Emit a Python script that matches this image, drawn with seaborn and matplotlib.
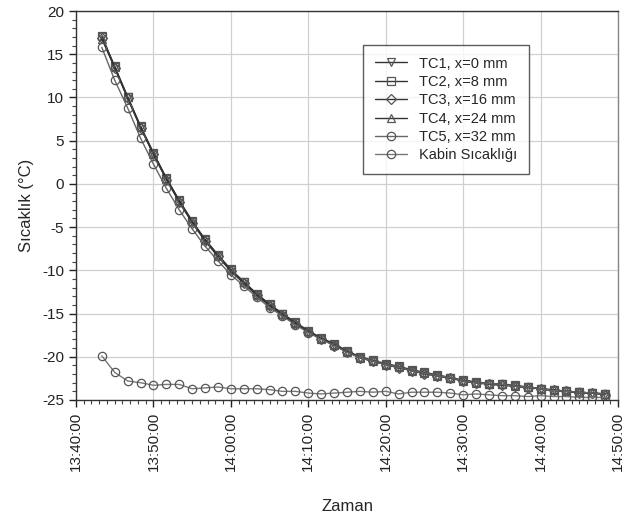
import pandas as pd
import matplotlib
matplotlib.use("Agg")
import matplotlib.pyplot as plt
import matplotlib.dates as mdates
import seaborn as sns

# Measurement times (every 100 s)
times = pd.date_range("2000-01-01 13:43:20", periods=40, freq="100s")

tc1 = [17.0, 13.5, 10.0, 6.6, 3.5, 0.6, -2.0, -4.4, -6.5, -8.3,
       -10.0, -11.4, -12.8, -14.0, -15.1, -16.1, -17.1, -17.9, -18.6, -19.4,
       -20.1, -20.5, -20.9, -21.2, -21.6, -21.9, -22.2, -22.4, -22.8, -23.0,
       -23.1, -23.2, -23.4, -23.5, -23.7, -23.9, -24.0, -24.1, -24.2, -24.3]
tc2 = [17.1, 13.6, 10.1, 6.7, 3.6, 0.7, -1.9, -4.3, -6.4, -8.2,
       -9.9, -11.3, -12.7, -13.9, -15.0, -16.0, -17.0, -17.8, -18.5, -19.3,
       -20.0, -20.4, -20.8, -21.1, -21.5, -21.8, -22.1, -22.4, -22.7, -22.9,
       -23.1, -23.2, -23.3, -23.5, -23.7, -23.8, -24.0, -24.1, -24.2, -24.3]
tc3 = [16.9, 13.4, 9.9, 6.5, 3.4, 0.5, -2.1, -4.5, -6.6, -8.4,
       -10.1, -11.5, -12.9, -14.1, -15.2, -16.2, -17.1, -17.9, -18.7, -19.4,
       -20.1, -20.5, -20.9, -21.3, -21.6, -22.0, -22.2, -22.5, -22.8, -23.0,
       -23.2, -23.3, -23.4, -23.6, -23.7, -23.9, -24.0, -24.2, -24.2, -24.4]
tc4 = [16.8, 13.5, 10.0, 6.6, 3.5, 0.6, -2.0, -4.3, -6.5, -8.3,
       -10.0, -11.4, -12.8, -14.0, -15.1, -16.1, -17.0, -17.9, -18.6, -19.4,
       -20.1, -20.5, -20.9, -21.2, -21.6, -21.9, -22.2, -22.4, -22.8, -23.0,
       -23.1, -23.2, -23.4, -23.5, -23.7, -23.9, -24.0, -24.1, -24.2, -24.3]
tc5 = [15.8, 12.0, 8.8, 5.3, 2.3, -0.5, -3.0, -5.2, -7.2, -8.9,
       -10.5, -11.8, -13.1, -14.3, -15.3, -16.3, -17.2, -18.0, -18.7, -19.5,
       -20.1, -20.5, -20.9, -21.2, -21.6, -21.9, -22.2, -22.4, -22.8, -23.0,
       -23.1, -23.2, -23.4, -23.5, -23.7, -23.9, -24.0, -24.1, -24.2, -24.3]
kabin = [-19.9, -21.8, -22.8, -23.0, -23.3, -23.2, -23.2, -23.7, -23.6, -23.5,
         -23.7, -23.7, -23.7, -23.8, -24.0, -24.0, -24.2, -24.3, -24.2, -24.1,
         -24.0, -24.1, -24.0, -24.3, -24.1, -24.1, -24.1, -24.2, -24.4, -24.3,
         -24.4, -24.5, -24.5, -24.6, -24.5, -24.6, -24.6, -24.7, -24.7, -24.7]

series = [
    ("TC1, x=0 mm", tc1, "v", "#333333"),
    ("TC2, x=8 mm", tc2, "s", "#333333"),
    ("TC3, x=16 mm", tc3, "D", "#333333"),
    ("TC4, x=24 mm", tc4, "^", "#333333"),
    ("TC5, x=32 mm", tc5, "o", "#666666"),
    ("Kabin Sıcaklığı", kabin, "o", "#777777"),
]

sns.set_style("ticks")
plt.rcParams["font.family"] = ["Liberation Sans", "DejaVu Sans"]
plt.rcParams["axes.unicode_minus"] = False

fig = plt.figure(figsize=(6.3, 5.19), dpi=100)
ax = fig.add_axes([0.1206, 0.2293, 0.8604, 0.7495])

for label, vals, mk, col in series:
    ms = 5 if mk == "D" else 6
    sns.lineplot(x=times, y=vals, ax=ax, label=label, color=col, linewidth=1.0,
                 marker=mk, markersize=ms, markerfacecolor="none",
                 markeredgecolor="#555555", markeredgewidth=0.9)

ax.set_xlim(pd.Timestamp("2000-01-01 13:40:00"), pd.Timestamp("2000-01-01 14:50:00"))
ax.set_ylim(-25, 20)
ax.set_yticks(range(-25, 21, 5))
ax.yaxis.set_minor_locator(plt.MultipleLocator(1))
ax.xaxis.set_major_locator(mdates.MinuteLocator(byminute=range(0, 60, 10)))
ax.xaxis.set_minor_locator(mdates.MinuteLocator())
ax.xaxis.set_major_formatter(mdates.DateFormatter("%H:%M:%S"))
plt.setp(ax.get_xticklabels(), rotation=90)

ax.grid(True, which="major", color="#d0d0d0", linewidth=0.9)
ax.tick_params(which="major", direction="out", length=5, width=1, labelsize=11, colors="#222222")
ax.tick_params(which="minor", direction="out", length=3, width=0.8, color="#444444")
for sp in ax.spines.values():
    sp.set_color("#333333")
    sp.set_linewidth(1.0)
ax.spines["right"].set_color("#888888")

ax.set_xlabel("Zaman", fontsize=12, labelpad=20)
ax.set_ylabel("Sıcaklık (°C)", fontsize=12, labelpad=6)

leg = ax.legend(loc="upper right", bbox_to_anchor=(0.835, 0.913), borderaxespad=0,
                fontsize=10.5, frameon=True, fancybox=False, handlelength=2.2,
                labelspacing=0.3, borderpad=0.8, edgecolor="#333333")
leg.get_frame().set_linewidth(1.0)

fig.savefig("out.png", dpi=100)
